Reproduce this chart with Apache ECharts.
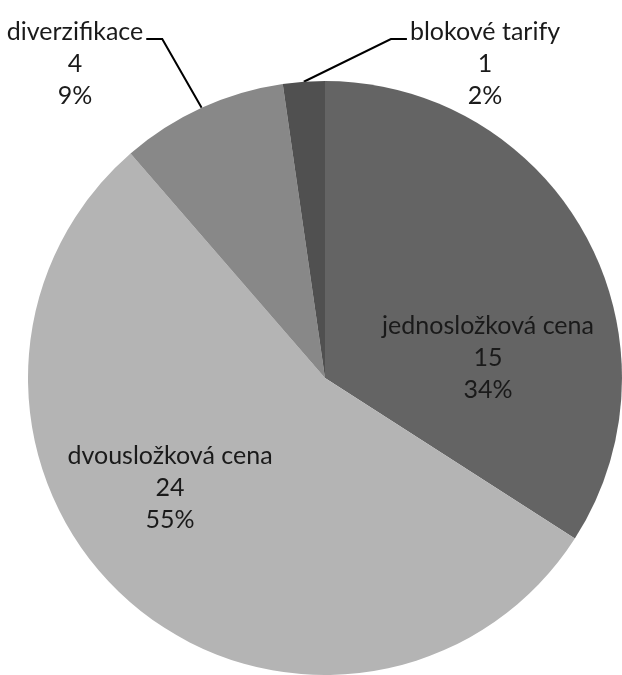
<!DOCTYPE html>
<html>
<head>
<meta charset="utf-8">
<script src="https://cdn.jsdelivr.net/npm/echarts@6/dist/echarts.min.js"></script>
<style>
html,body{margin:0;padding:0;background:#fff;}
#chart{width:622px;height:675px;}
</style>
</head>
<body>
<div id="chart"></div>
<script>
var categories = ['jednosložková cena', 'dvousložková cena', 'diverzifikace', 'blokové tarify'];
var values = [15, 24, 4, 1];
var colors = ['#646464', '#b4b4b4', '#888888', '#505050'];

var chart = echarts.init(document.getElementById('chart'), null, {renderer: 'canvas'});

// label block centres (label placement, not marks)
var labelPos = [[488, 358], [170, 488], [75, 64], [485, 64]];
var lineHeight = 32;

var data = categories.map(function (c, i) {
  return {
    name: c,
    value: values[i],
    itemStyle: {color: colors[i]},
    label: {position: i < 2 ? 'inside' : 'outside'},
    labelLine: {show: i >= 2}
  };
});

chart.setOption({
  animation: false,
  series: [{
    type: 'pie',
    center: [325, 378],
    radius: 297,
    startAngle: 90,
    clockwise: true,
    percentPrecision: 0,
    avoidLabelOverlap: false,
    data: data,
    label: {
      formatter: '{b}\n{c}\n{d}%',
      fontFamily: 'Lato',
      fontSize: 25,
      lineHeight: lineHeight,
      color: '#1a1a1a',
      align: 'center'
    },
    labelLine: {
      lineStyle: {color: '#000', width: 2},
      length: 10,
      length2: 10
    },
    labelLayout: function (p) {
      var i = p.dataIndex;
      var pos = labelPos[i];
      var res = {x: pos[0], y: pos[1], align: 'center', verticalAlign: 'middle'};
      if (i >= 2 && p.labelLinePoints) {
        var edge = p.labelLinePoints[0];
        var w = p.labelRect.width;
        var y1 = pos[1] - lineHeight + 7;
        if (i === 2) {
          var xr = pos[0] + w / 2 + 3;
          res.labelLinePoints = [edge, [xr + 16, y1], [xr, y1]];
        } else {
          var xl = pos[0] - w / 2 - 3;
          res.labelLinePoints = [edge, [xl - 16, y1], [xl, y1]];
        }
      }
      return res;
    },
    emphasis: {disabled: true}
  }]
});
</script>
</body>
</html>
